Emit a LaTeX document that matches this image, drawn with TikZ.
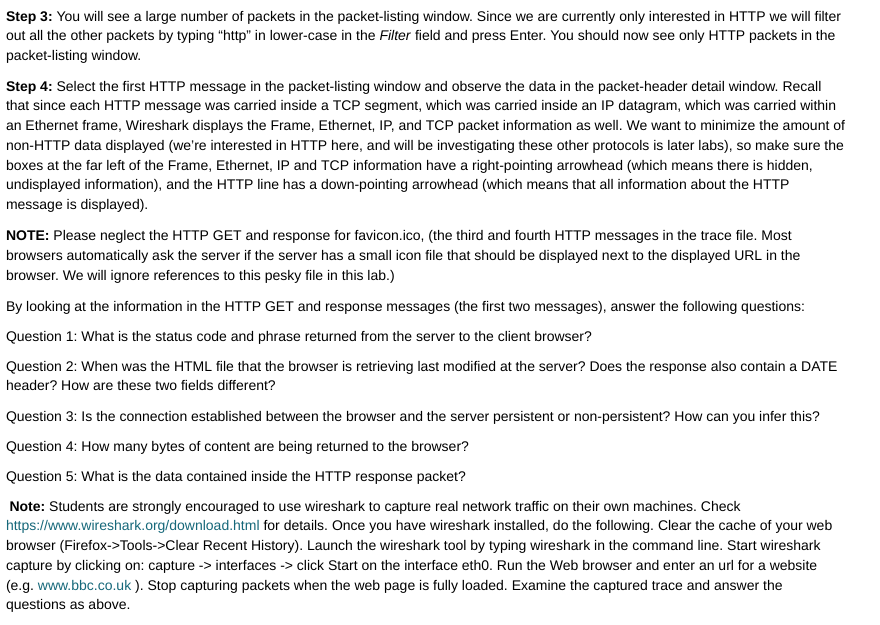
\documentclass[tikz,border=0pt]{standalone}
\usepackage{fontspec}
\setmainfont{Liberation Sans}
\definecolor{linkcol}{RGB}{22,104,122}
\begin{document}
\frenchspacing
\begin{tikzpicture}[x=1pt,y=-1pt,
  txt/.style={anchor=base west,inner sep=0pt,outer sep=0pt,font=\fontsize{14}{16}\selectfont\frenchspacing,text=black}]
\useasboundingbox[fill=white] (0,0) rectangle (880,624);
\node[txt] (l1) at (6,21) {\textbf{Step 3:} You will see a large number of packets in the packet-listing window. Since we are currently only interested in HTTP we will filter};
\node[txt] (l2) at (6,40.75) {out all the other packets by typing “http” in lower-case in the \textit{Filter} field and press Enter. You should now see only HTTP packets in the};
\node[txt] (l3) at (6,60.5) {packet-listing window.};
\node[txt] (l4) at (6,91) {\textbf{Step 4:} Select the first HTTP message in the packet-listing window and observe the data in the packet-header detail window. Recall};
\node[txt] (l5) at (6,110.75) {that since each HTTP message was carried inside a TCP segment, which was carried inside an IP datagram, which was carried within};
\node[txt] (l6) at (6,130.5) {an Ethernet frame, Wireshark displays the Frame, Ethernet, IP, and TCP packet information as well. We want to minimize the amount of};
\node[txt] (l7) at (6,150.25) {non-HTTP data displayed (we’re interested in HTTP here, and will be investigating these other protocols is later labs), so make sure the};
\node[txt] (l8) at (6,170) {boxes at the far left of the Frame, Ethernet, IP and TCP information have a right-pointing arrowhead (which means there is hidden,};
\node[txt] (l9) at (6,189.75) {undisplayed information), and the HTTP line has a down-pointing arrowhead (which means that all information about the HTTP};
\node[txt] (l10) at (6,209.5) {message is displayed).};
\node[txt] (l11) at (6,240.5) {\textbf{NOTE:} Please neglect the HTTP GET and response for favicon.ico, (the third and fourth HTTP messages in the trace file. Most};
\node[txt] (l12) at (6,260.25) {browsers automatically ask the server if the server has a small icon file that should be displayed next to the displayed URL in the};
\node[txt] (l13) at (6,280) {browser. We will ignore references to this pesky file in this lab.)};
\node[txt] (l14) at (6,311) {By looking at the information in the HTTP GET and response messages (the first two messages), answer the following questions:};
\node[txt] (l15) at (6,341) {Question 1: What is the status code and phrase returned from the server to the client browser?};
\node[txt] (l16) at (6,371) {Question 2: When was the HTML file that the browser is retrieving last modified at the server? Does the response also contain a DATE};
\node[txt] (l17) at (6,390.75) {header? How are these two fields different?};
\node[txt] (l18) at (6,421) {Question 3: Is the connection established between the browser and the server persistent or non-persistent? How can you infer this?};
\node[txt] (l19) at (6,451) {Question 4: How many bytes of content are being returned to the browser?};
\node[txt] (l20) at (6,481) {Question 5: What is the data contained inside the HTTP response packet?};
\node[txt] (l21) at (9.5,511) {\textbf{Note:} Students are strongly encouraged to use wireshark to capture real network traffic on their own machines. Check};
\node[txt] (l22) at (6,530.75) {\textcolor{linkcol}{https://www.wireshark.org/download.html} for details. Once you have wireshark installed, do the following. Clear the cache of your web};
\node[txt] (l23) at (6,550.5) {browser (Firefox->Tools->Clear Recent History). Launch the wireshark tool by typing wireshark in the command line. Start wireshark};
\node[txt] (l24) at (6,570.25) {capture by clicking on: capture -> interfaces -> click Start on the interface eth0. Run the Web browser and enter an url for a website};
\node[txt] (l25) at (6,590) {(e.g. \textcolor{linkcol}{www.bbc.co.uk} ). Stop capturing packets when the web page is fully loaded. Examine the captured trace and answer the};
\node[txt] (l26) at (6,609.75) {questions as above.};
\end{tikzpicture}
\end{document}
